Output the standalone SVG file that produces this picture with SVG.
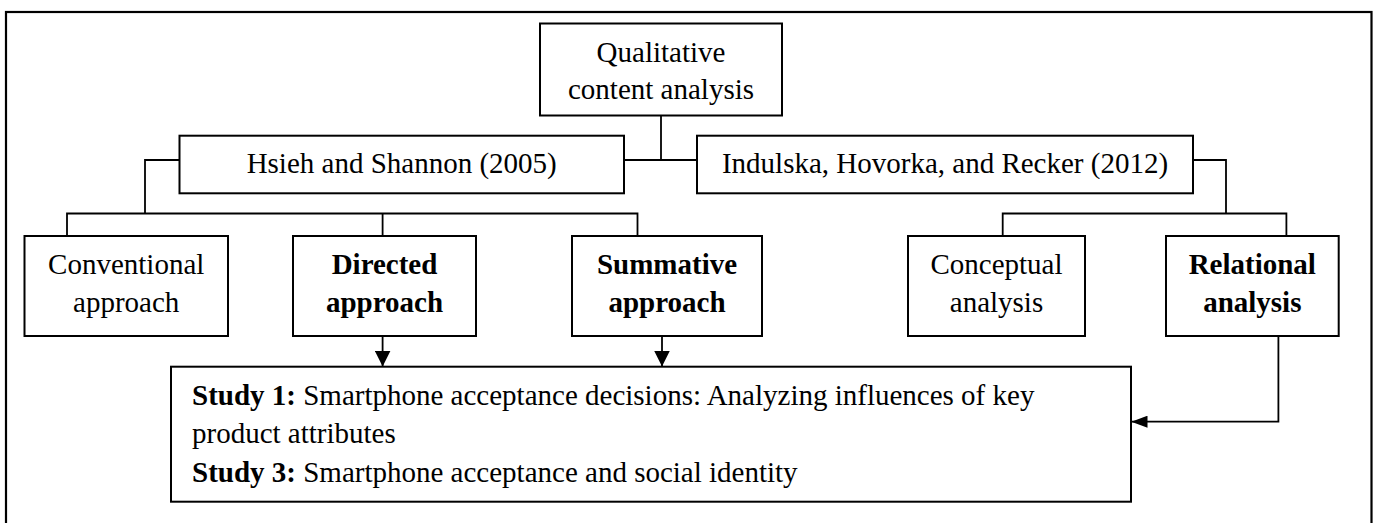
<svg xmlns="http://www.w3.org/2000/svg" width="1375" height="523" viewBox="0 0 1375 523">
  <style>
    .box { fill: #ffffff; stroke: #000000; stroke-width: 2; }
    .frame { fill: none; stroke: #000000; stroke-width: 2.2; }
    .wire { fill: none; stroke: #000000; stroke-width: 1.8; }
    .t { font-family: "Liberation Serif", "Times New Roman", serif; font-size: 29px; fill: #000000; }
    .c { text-anchor: middle; }
    .b { font-weight: bold; }
  </style>
  <defs>
    <!-- wide head for the vertical arrows -->
    <marker id="arrow-wide" viewBox="0 0 16 16" refX="16" refY="8" markerWidth="16" markerHeight="16" markerUnits="userSpaceOnUse" orient="auto">
      <path d="M0,0 L16,8 L0,16 Z" fill="#000000"/>
    </marker>
    <!-- slimmer head for the side arrow -->
    <marker id="arrow-slim" viewBox="0 0 16 12" refX="16" refY="6" markerWidth="16" markerHeight="12" markerUnits="userSpaceOnUse" orient="auto">
      <path d="M0,0 L16,6 L0,12 Z" fill="#000000"/>
    </marker>
  </defs>

  <rect x="0" y="0" width="1375" height="523" fill="#ffffff"/>
  <rect class="frame" x="6" y="12" width="1365.5" height="530"/>

  <g id="connectors">
    <!-- root to the two authors -->
    <path class="wire" d="M661,116 V160"/>
    <path class="wire" d="M624,160 H697"/>
    <!-- Hsieh and Shannon branches -->
    <path class="wire" d="M179.5,160 H145 V213.5"/>
    <path class="wire" d="M67,236 V213.5 H637.5 V236"/>
    <path class="wire" d="M382.6,213.5 V236"/>
    <!-- Indulska et al. branches -->
    <path class="wire" d="M1193,160 H1226 V213.5"/>
    <path class="wire" d="M1002.7,236 V213.5 H1286.4 V236"/>
    <!-- arrows into the studies box -->
    <path class="wire" d="M382.6,336 V366.5" marker-end="url(#arrow-wide)"/>
    <path class="wire" d="M662,336 V366.5" marker-end="url(#arrow-wide)"/>
    <path class="wire" d="M1278.4,336 V421.7 H1131.5" marker-end="url(#arrow-slim)"/>
  </g>

  <g id="root">
    <rect class="box" x="540" y="23.5" width="242" height="92"/>
    <text class="t c" x="661" y="61.7">Qualitative</text>
    <text class="t c" x="661" y="99">content analysis</text>
  </g>

  <g id="hsieh">
    <rect class="box" x="179.5" y="135.7" width="444.5" height="57.6"/>
    <text class="t c" x="401.7" y="173.3">Hsieh and Shannon (2005)</text>
  </g>

  <g id="indulska">
    <rect class="box" x="697" y="135.7" width="496" height="57.6"/>
    <text class="t c" x="945" y="173.3">Indulska, Hovorka, and Recker (2012)</text>
  </g>

  <g id="conventional">
    <rect class="box" x="24.5" y="236" width="203.5" height="100"/>
    <text class="t c" x="126.2" y="274">Conventional</text>
    <text class="t c" x="126.2" y="312">approach</text>
  </g>

  <g id="directed">
    <rect class="box" x="293" y="236" width="183" height="100"/>
    <text class="t c b" x="384.5" y="274">Directed</text>
    <text class="t c b" x="384.5" y="312">approach</text>
  </g>

  <g id="summative">
    <rect class="box" x="572" y="236" width="190" height="100"/>
    <text class="t c b" x="667" y="274">Summative</text>
    <text class="t c b" x="667" y="312">approach</text>
  </g>

  <g id="conceptual">
    <rect class="box" x="908" y="236" width="177" height="100"/>
    <text class="t c" x="996.5" y="274">Conceptual</text>
    <text class="t c" x="996.5" y="312">analysis</text>
  </g>

  <g id="relational">
    <rect class="box" x="1166" y="236" width="172.7" height="100"/>
    <text class="t c b" x="1252.3" y="274">Relational</text>
    <text class="t c b" x="1252.3" y="312">analysis</text>
  </g>

  <g id="studies">
    <rect class="box" x="171" y="366.7" width="960" height="135"/>
    <text class="t" x="192" y="405"><tspan class="b">Study 1:</tspan> Smartphone acceptance decisions: Analyzing influences of key</text>
    <text class="t" x="192" y="443.3">product attributes</text>
    <text class="t" x="192" y="481.7"><tspan class="b">Study 3:</tspan> Smartphone acceptance and social identity</text>
  </g>
</svg>
